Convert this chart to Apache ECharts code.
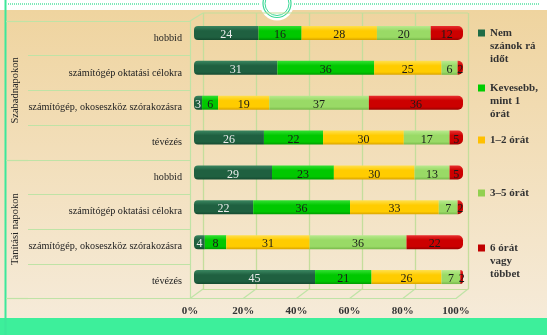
<!DOCTYPE html>
<html>
<head>
<meta charset="utf-8">
<script src="https://cdn.jsdelivr.net/npm/echarts@6/dist/echarts.min.js"></script>
<style>
  html, body { margin: 0; padding: 0; background: #ffffff; }
  #chart { width: 547px; height: 335px; }
</style>
</head>
<body>
<div id="chart"></div>
<script>
// Time spent on activities, share of answers (%)
const categories = [
  'hobbid',
  'számítógép oktatási célokra',
  'számítógép, okoseszköz szórakozásra',
  'tévézés',
  'hobbid',
  'számítógép oktatási célokra',
  'számítógép, okoseszköz szórakozásra',
  'tévézés'
];
const groups = ['Szabadnapokon', 'Tanítási napokon'];
const seriesNames = [
  'Nem\nszánok rá\nidőt',
  'Kevesebb,\nmint 1\nórát',
  '1–2 órát',
  '3–5 órát',
  '6 órát\nvagy\ntöbbet'
];
const noTime    = [24, 31, 3, 26, 29, 22, 4, 45];
const lessThan1 = [16, 36, 6, 22, 23, 36, 8, 21];
const hours1to2 = [28, 25, 19, 30, 30, 33, 31, 26];
const hours3to5 = [20, 6, 37, 17, 13, 7, 36, 7];
const hours6up  = [12, 2, 36, 5, 5, 2, 22, 2];
const xTicks = [0, 20, 40, 60, 80, 100];

const values = [noTime, lessThan1, hours1to2, hours3to5, hours6up];
const baseColors = ['#1f6b45', '#00cc00', '#ffc000', '#92d050', '#c00000'];
const tubeShades = [
  ['#3a8660', '#1f6040', '#154a30'],
  ['#33e033', '#00c800', '#009a00'],
  ['#ffe04d', '#ffcc00', '#d9a300'],
  ['#b8ea8e', '#99da66', '#78b84a'],
  ['#e83030', '#cc0000', '#990000']
];
const labelColors = ['#ececec', '#1a1a1a', '#1a1a1a', '#1a1a1a', '#1a1a1a'];

const serif = '"Liberation Serif", "DejaVu Serif", serif';
const lineGreen = '#bfe3a6';
const wallGreen = '#c4de9c';

function tube(c) {
  return {
    type: 'linear', x: 0, y: 0, x2: 0, y2: 1,
    colorStops: [
      { offset: 0, color: c[0] },
      { offset: 0.35, color: c[1] },
      { offset: 0.8, color: c[1] },
      { offset: 1, color: c[2] }
    ]
  };
}

const series = values.map((arr, i) => ({
  name: seriesNames[i],
  type: 'bar',
  stack: 'total',
  xAxisIndex: 0,
  yAxisIndex: 0,
  barWidth: 14,
  data: arr,
  itemStyle: {
    color: tube(tubeShades[i]),
    borderRadius: i === 0 ? [4, 0, 0, 4] : (i === values.length - 1 ? [0, 5, 5, 0] : 0)
  },
  label: {
    show: true,
    position: 'inside',
    offset: [0, 2],
    color: labelColors[i],
    fontFamily: serif,
    fontSize: 12
  }
}));

// legend: one component per entry so each can sit at its own height;
// leading blank lines keep the marker level with the first text line
const legendTops = [0.5, 55.5, 133.5, 186.5, 215.5];
const legends = seriesNames.map((name, i) => {
  const extra = name.split('\n').length - 1;
  return {
    orient: 'vertical',
    left: 478,
    top: legendTops[i],
    padding: 0,
    itemWidth: 7,
    itemHeight: 7,
    itemGap: 4,
    selectedMode: false,
    icon: 'rect',
    data: [{ name: name, itemStyle: { color: baseColors[i] } }],
    formatter: n => '\n'.repeat(extra) + n,
    textStyle: {
      fontFamily: serif,
      fontSize: 11,
      fontWeight: 'bold',
      color: '#333333',
      lineHeight: 13
    }
  };
});

const chart = echarts.init(document.getElementById('chart'), null, { renderer: 'canvas' });

const option = {
  animation: false,
  backgroundColor: '#ffffff',
  legend: legends,
  grid: [
    // bars
    { left: 194, right: 84, top: 15.5, bottom: 40.5 },
    // front axis and row labels
    { left: 190, right: 91, top: 21, bottom: 36.5 },
    // back wall
    { left: 203, right: 79, top: 13, bottom: 46 }
  ],
  xAxis: [
    { type: 'value', gridIndex: 0, min: 0, max: 100, show: false },
    {
      type: 'value', gridIndex: 1, min: 0, max: 100, interval: 20,
      axisLine: { show: true, lineStyle: { color: lineGreen, width: 1.2 } },
      axisTick: { show: false },
      splitLine: { show: false },
      axisLabel: {
        formatter: v => v + '%',
        fontFamily: serif, fontSize: 11, fontWeight: 'bold', color: '#333333', margin: 7
      }
    },
    {
      type: 'value', gridIndex: 2, min: 0, max: 100, interval: 20,
      axisLine: { show: true, lineStyle: { color: wallGreen, width: 1.2 } },
      axisTick: { show: false },
      axisLabel: { show: false },
      splitLine: { show: true, lineStyle: { color: wallGreen, width: 1.3 } }
    }
  ],
  yAxis: [
    { type: 'category', gridIndex: 0, data: categories, inverse: true, show: false },
    {
      type: 'category', gridIndex: 1, data: categories, inverse: true,
      axisLine: { show: true, lineStyle: { color: lineGreen, width: 1.2 } },
      axisTick: { show: true, length: 162, lineStyle: { color: lineGreen, width: 1.2 } },
      axisLabel: { fontFamily: serif, fontSize: 10.2, color: '#222222', margin: 8 }
    },
    {
      type: 'category', gridIndex: 1, data: groups, inverse: true, position: 'left', offset: 162,
      axisLine: { show: false },
      axisTick: { show: true, length: 22, lineStyle: { color: lineGreen, width: 1.2 } },
      axisLabel: { rotate: 90, fontFamily: serif, fontSize: 10.5, color: '#222222', margin: 7 }
    },
    { type: 'value', gridIndex: 2, show: false }
  ],
  series: series
};

chart.setOption(option);

// decorative frame plus the floor edges joining the front axis to the back wall
const W = 547, H = 335;
const graphics = [
  {
    type: 'rect', z: -10, silent: true,
    shape: { x: 0, y: 10, width: W, height: H - 10 },
    style: {
      fill: {
        type: 'linear', x: 0, y: 0, x2: 0, y2: 1,
        colorStops: [{ offset: 0, color: '#efd49f' }, { offset: 1, color: '#f6ecdc' }]
      }
    }
  },
  { type: 'rect', z: -9, silent: true, shape: { x: 0, y: 318, width: W, height: 17 }, style: { fill: '#3def9b' } },
  { type: 'line', z: -9, silent: true, shape: { x1: 8, y1: 4, x2: 540, y2: 4 },
    style: { stroke: '#7ee8b8', lineWidth: 2, lineDash: [1, 1] } },
  { type: 'line', z: -8, silent: true, shape: { x1: 5.5, y1: 0, x2: 5.5, y2: H },
    style: { stroke: '#3de89a', lineWidth: 2 } },
  { type: 'circle', z: -7, silent: true, shape: { cx: 277, cy: 3.5, r: 17 }, style: { fill: '#ffffff' } },
  { type: 'circle', z: -6, silent: true, shape: { cx: 277, cy: 3.5, r: 14 }, style: { fill: 'none', stroke: '#3ad896', lineWidth: 1.2 } },
  { type: 'circle', z: -6, silent: true, shape: { cx: 277, cy: 3.5, r: 12 }, style: { fill: 'none', stroke: '#3ad896', lineWidth: 1 } }
];

const frontRect = chart.getModel().getComponent('grid', 1).coordinateSystem.getRect();
const backRect = chart.getModel().getComponent('grid', 2).coordinateSystem.getRect();
xTicks.forEach(v => {
  const xf = chart.convertToPixel({ xAxisIndex: 1 }, v);
  const xb = chart.convertToPixel({ xAxisIndex: 2 }, v);
  graphics.push({
    type: 'line', z: -5, silent: true,
    shape: { x1: xf, y1: frontRect.y + frontRect.height, x2: xb, y2: backRect.y + backRect.height },
    style: { stroke: lineGreen, lineWidth: 1.2 }
  });
});
graphics.push({
  type: 'line', z: -5, silent: true,
  shape: { x1: frontRect.x, y1: frontRect.y, x2: backRect.x, y2: backRect.y },
  style: { stroke: lineGreen, lineWidth: 1.2 }
});
graphics.push({
  type: 'line', z: -5, silent: true,
  shape: { x1: backRect.x, y1: backRect.y, x2: backRect.x + backRect.width, y2: backRect.y },
  style: { stroke: wallGreen, lineWidth: 1.2 }
});

chart.setOption({ graphic: graphics });
</script>
</body>
</html>
